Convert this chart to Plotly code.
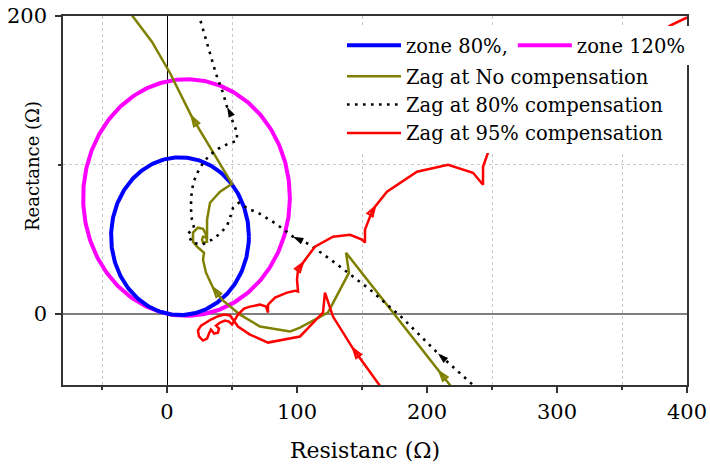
import numpy as np
import plotly.graph_objects as go

# ---------------- data (ohm) ----------------
# mho zone circles: centre (R, X) and radius
zone80_center = (10.0, 52.0)
zone80_radius = 53.0
zone120_center = (15.0, 78.0)
zone120_radius = 79.5

# apparent impedance trajectory, no compensation
nocomp_R = [221.5, 209.5, 137.7, 140.0, 123.8, 102.3, 94.6, 71.5, 56.2, 42.3,
            35.4, 30.0, 27.7, 28.5, 23.1, 20.0, 20.0, 23.8, 27.7, 30.0,
            30.8, 27.7, 26.9, 27.7, 30.8, 30.8, 33.1, 40.8, 50.0, 19.0,
            2.3, -11.5, -26.2, -30.0]
nocomp_X = [-52.3, -38.9, 40.9, 27.5, 0.7, -9.4, -12.1, -8.7, -0.7, 9.4,
            17.4, 27.5, 36.2, 40.9, 45.0, 48.3, 54.4, 57.7, 57.0, 53.0,
            48.3, 47.7, 49.7, 51.7, 51.0, 63.1, 74.5, 81.9, 87.2, 132.4,
            161.7, 182.6, 199.3, 204.0]
nocomp_arrows = [1, 10, 29]

# trajectory, 80% compensation
comp80_R = [239.2, 208.5, 180.8, 156.2, 130.0, 110.0, 96.9, 83.8, 70.0, 62.3,
            55.4, 50.8, 48.5, 46.2, 40.8, 34.6, 26.9, 19.2, 16.2, 20.8,
            19.2, 18.5, 18.5, 19.2, 20.8, 23.8, 27.7, 33.1, 39.2, 46.9,
            53.8, 53.8, 50.8, 48.5, 46.2, 43.1, 37.7, 33.1, 29.2, 26.9, 23.8]
comp80_X = [-51.0, -26.8, -2.7, 16.1, 33.6, 46.3, 51.7, 60.4, 67.8, 70.5,
            74.5, 71.1, 64.4, 59.1, 53.7, 49.7, 46.3, 47.7, 53.7, 57.7,
            63.1, 69.8, 76.5, 83.2, 89.3, 95.3, 101.3, 106.7, 110.7, 114.1,
            116.1, 122.1, 128.2, 134.9, 138.9, 148.3, 161.1, 174.5, 187.2, 194.0, 202.7]
comp80_arrows = [1, 6, 34]

# trajectory, 95% compensation
comp95_R = [166.9, 143.1, 127.7, 121.5, 120.0, 102.3, 77.7, 63.8, 54.6, 50.8,
            48.5, 43.8, 38.5, 33.8, 30.0, 26.2, 23.8, 24.6, 27.7, 30.8,
            32.3, 33.8, 36.2, 39.2, 40.0, 37.7, 40.8, 44.6, 47.7, 50.0,
            52.3, 54.6, 59.2, 63.8, 71.5, 76.2, 77.7, 77.7, 83.1, 92.3,
            98.5, 100.8, 100.0, 100.8, 104.6, 113.8, 127.7, 140.8, 150.0, 152.3,
            152.3, 157.7, 160.0, 169.2, 192.3, 216.2, 235.4, 243.1, 243.1, 247.7,
            252.0, 360.0, 387.0, 400.0]
comp95_X = [-52.3, -23.5, -2.0, 14.1, 0.7, -15.4, -19.5, -14.1, -8.7, -4.0,
            -1.3, -0.7, -2.0, -4.0, -6.0, -8.1, -11.4, -15.4, -18.1, -16.8,
            -13.4, -10.7, -13.4, -12.8, -10.1, -8.1, -6.0, -4.7, -5.4, -7.4,
            -4.0, -0.7, 3.4, 4.7, 6.0, 4.7, 0.7, 6.0, 10.7, 14.1,
            15.4, 14.8, 22.8, 29.5, 34.2, 45.0, 51.7, 53.0, 49.7, 47.7,
            56.4, 68.5, 71.8, 81.9, 95.3, 100.0, 94.6, 86.6, 98.7, 110.1,
            140.0, 176.0, 193.5, 199.0]
comp95_arrows = [1, 44, 52]

x_range = [-80, 400]
y_range = [-48, 200]

FONT = "DejaVu Serif"
OLIVE = "#808000"


def circle(center, radius, n=361):
    t = np.linspace(0, 2 * np.pi, n)
    return center[0] + radius * np.cos(t), center[1] + radius * np.sin(t)


def arrow_trace(R, X, idx, color, symbol, size, line_w):
    xs, ys, sz, op = [], [], [], []
    for i in idx:
        xs += [R[i - 1], R[i]]
        ys += [X[i - 1], X[i]]
        sz += [0, size]
        op += [0, 1]
    return go.Scatter(
        x=xs, y=ys, mode="markers", showlegend=False, hoverinfo="skip",
        marker=dict(symbol=symbol, size=sz, opacity=op, color=color,
                    angleref="previous",
                    line=dict(color=color, width=line_w)))


fig = go.Figure()

cx, cy = circle(zone120_center, zone120_radius)
fig.add_trace(go.Scatter(x=cx, y=cy, mode="lines", name="zone 120%",
                         line=dict(color="#FF00FF", width=4), legendrank=2))
cx, cy = circle(zone80_center, zone80_radius)
fig.add_trace(go.Scatter(x=cx, y=cy, mode="lines", name="zone 80%,",
                         line=dict(color="#0000FF", width=4), legendrank=1))

fig.add_trace(go.Scatter(x=nocomp_R, y=nocomp_X, mode="lines",
                         name="Zag at No compensation", legend="legend2",
                         line=dict(color=OLIVE, width=2.5)))
fig.add_trace(go.Scatter(x=comp80_R, y=comp80_X, mode="lines",
                         name="Zag at 80% compensation", legend="legend2",
                         line=dict(color="black", width=2.6, dash="2.6px,5.4px")))
fig.add_trace(go.Scatter(x=comp95_R, y=comp95_X, mode="lines",
                         name="Zag at 95% compensation", legend="legend2",
                         line=dict(color="#FF0000", width=2.5)))

fig.add_trace(arrow_trace(nocomp_R, nocomp_X, nocomp_arrows, OLIVE, "arrow-open", 10, 2))
fig.add_trace(arrow_trace(comp80_R, comp80_X, comp80_arrows, "black", "arrow", 11, 0))
fig.add_trace(arrow_trace(comp95_R, comp95_X, comp95_arrows, "#FF0000", "arrow-open", 10, 2))

axis_common = dict(
    showline=True, mirror=True, linecolor="#333333", linewidth=1.5,
    ticks="outside", ticklen=6, tickwidth=1.5, tickcolor="#333333",
    showgrid=False, automargin=False,
    tickfont=dict(family=FONT, size=21, color="black"),
)

fig.update_xaxes(
    range=x_range, tickmode="linear", tick0=0, dtick=100,
    zeroline=True, zerolinecolor="black", zerolinewidth=1,
    ticklabelstandoff=1,
    minor=dict(dtick=50, ticks="outside", ticklen=3, tickcolor="#333333",
               showgrid=True, gridcolor="#c8c8c8", griddash="dot", gridwidth=1),
    **axis_common)
fig.update_yaxes(
    range=y_range, tickmode="linear", tick0=0, dtick=200,
    zeroline=True, zerolinecolor="#808080", zerolinewidth=2,
    ticklabelstandoff=4,
    minor=dict(dtick=100, ticks="outside", ticklen=3, tickcolor="#333333",
               showgrid=True, gridcolor="#c8c8c8", griddash="dot", gridwidth=1),
    **axis_common)

L, R_, T, B = 63, 23, 16, 81
W, H = 710, 466
pw, ph = W - L - R_, H - T - B

legend_font = dict(family=FONT, size=19.5, color="black")

fig.update_layout(
    width=W, height=H,
    margin=dict(l=L, r=R_, t=T, b=B, autoexpand=False),
    paper_bgcolor="white", plot_bgcolor="white",
    font=dict(family=FONT, color="black"),
    legend=dict(orientation="h", traceorder="normal",
                x=(342 - L) / pw, y=(H - B - 26) / ph,
                xanchor="left", yanchor="top", bgcolor="white",
                borderwidth=0, font=legend_font, itemwidth=54),
    legend2=dict(orientation="v", tracegroupgap=0,
                 x=(342 - L) / pw, y=(H - B - 57) / ph,
                 xanchor="left", yanchor="top", bgcolor="white",
                 borderwidth=0, font=legend_font, itemwidth=54),
    annotations=[
        dict(text="Resistanc (\u03a9)", xref="paper", yref="paper",
             x=0.5 * (290 + 440 - 2 * L) / pw, y=-(450 - (H - B)) / ph,
             xanchor="center", yanchor="middle", showarrow=False,
             font=dict(family=FONT, size=22, color="black")),
        dict(text="Reactance (\u03a9)", xref="paper", yref="paper",
             x=(32 - L) / pw, y=((H - B) - 166) / ph, textangle=-90,
             xanchor="center", yanchor="middle", showarrow=False,
             font=dict(family=FONT, size=18, color="black")),
    ],
)

fig.write_html("out.html")
